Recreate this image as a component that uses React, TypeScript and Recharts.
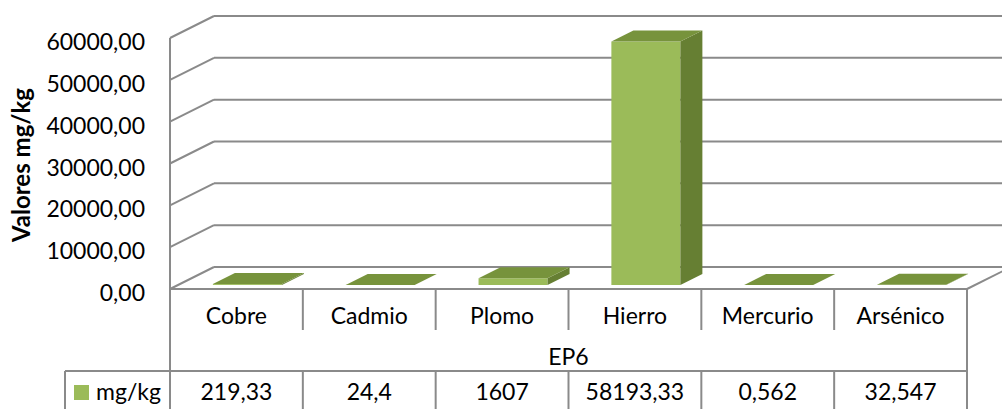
import { BarChart, Bar, XAxis, YAxis, CartesianGrid } from 'recharts';

const categories = ['Cobre', 'Cadmio', 'Plomo', 'Hierro', 'Mercurio', 'Arsénico'];
const values = [219.33, 24.4, 1607, 58193.33, 0.562, 32.547];
const yTicks = [0, 10000, 20000, 30000, 40000, 50000, 60000];
const seriesName = 'mg/kg';
const groupLabel = 'EP6';
const yTitle = 'Valores mg/kg';

const data = categories.map((name, i) => ({ name, value: values[i] }));

// layout
const W = 1002;
const H = 409;
const PLOT_L = 170;
const PLOT_R = 967;
const PLOT_B = 289;
const DEPTH_X = 44;
const DEPTH_Y = 22;
const COL_W = (PLOT_R - PLOT_L) / categories.length;
const ROW1 = 330;
const ROW2 = 371;
const LEGEND_L = 65;
const GRID = '#8a8a8a';
const FONT = 'Lato, "Open Sans", sans-serif';
const FRONT = '#9BBB59';
const TOP = '#77933C';
const SIDE = '#667F33';

const fmt = (v: number) => String(v).replace('.', ',');

function gridLine(p: any) {
    const { x1, x2, y1 } = p;
    const by = y1 - DEPTH_Y;
    return (
        <g key={p.key}>
            <line x1={x1} y1={y1} x2={x1 + DEPTH_X} y2={by} stroke={GRID} strokeWidth={2} />
            <line x1={x1 + DEPTH_X} y1={by} x2={x2 + DEPTH_X} y2={by} stroke={GRID} strokeWidth={2} />
            {y1 > PLOT_B - 1 && (
                <line x1={x2} y1={y1} x2={x2 + DEPTH_X} y2={by} stroke={GRID} strokeWidth={2} />
            )}
        </g>
    );
}

function Bar3D(p: any) {
    const { x, y, width, height } = p;
    const fx = x + 11;
    const fy = y - 4;
    const h = Math.max(height, 0);
    const dx = 22, dy = 11;
    const r = fx + width;
    return (
        <g>
            <rect x={fx} y={fy} width={width} height={h} fill={FRONT} />
            <polygon
                points={`${r},${fy} ${r + dx},${fy - dy} ${r + dx},${fy + h - dy} ${r},${fy + h}`}
                fill={SIDE}
            />
            <polygon
                points={`${fx},${fy} ${fx + dx},${fy - dy} ${r + dx},${fy - dy} ${r},${fy}`}
                fill={TOP}
            />
        </g>
    );
}

function YTick({ y, payload }: any) {
    return (
        <text x={145} y={y + 12} textAnchor="end" fontFamily={FONT} fontSize={23} fill="#000">
            {payload.value.toFixed(2).replace('.', ',')}
        </text>
    );
}

function XTick({ x, payload, index }: any) {
    const l = x - COL_W / 2;
    const r = x + COL_W / 2;
    const last = index === categories.length - 1;
    const txt = { fontFamily: FONT, fontSize: 23, fill: '#000', textAnchor: 'middle' as const };
    return (
        <g>
            <text x={x} y={324} {...txt}>{payload.value}</text>
            <text x={x} y={400} {...txt}>{fmt(values[index])}</text>
            {last ? (
                <line x1={r} y1={PLOT_B} x2={r} y2={H} stroke={GRID} strokeWidth={2} />
            ) : (
                <>
                    <line x1={r} y1={PLOT_B} x2={r} y2={ROW1} stroke={GRID} strokeWidth={2} />
                    <line x1={r} y1={ROW2} x2={r} y2={H} stroke={GRID} strokeWidth={2} />
                </>
            )}
            {index === 0 && (
                <g>
                    <line x1={l} y1={PLOT_B} x2={l} y2={H} stroke={GRID} strokeWidth={2} />
                    <line x1={LEGEND_L} y1={ROW2} x2={PLOT_R} y2={ROW2} stroke={GRID} strokeWidth={2} />
                    <line x1={LEGEND_L} y1={ROW2} x2={LEGEND_L} y2={H} stroke={GRID} strokeWidth={2} />
                    <text x={(PLOT_L + PLOT_R) / 2} y={365} {...txt}>{groupLabel}</text>
                    <rect x={74} y={385} width={15} height={15} fill={FRONT} />
                    <text x={96} y={400} fontFamily={FONT} fontSize={23} fill="#000">{seriesName}</text>
                </g>
            )}
        </g>
    );
}

export default function App() {
    return (
        <div style={{ position: 'absolute', left: 0, top: 0, width: W, height: H, background: '#fff' }}>
            <BarChart
                width={W}
                height={H}
                data={data}
                margin={{ top: 38, right: W - PLOT_R, bottom: 0, left: 0 }}
                barCategoryGap="24%"
            >
                <CartesianGrid vertical={false} horizontal={gridLine} />
                <XAxis
                    dataKey="name"
                    height={H - PLOT_B}
                    interval={0}
                    tickLine={false}
                    axisLine={{ stroke: GRID, strokeWidth: 2 }}
                    tick={(p: any) => <XTick {...p} />}
                />
                <YAxis
                    width={PLOT_L}
                    domain={[0, 60000]}
                    ticks={yTicks}
                    tickLine={false}
                    axisLine={{ stroke: GRID, strokeWidth: 2 }}
                    tick={(p: any) => <YTick {...p} />}
                    label={() => (
                        <text
                            transform="translate(30,165) rotate(-90)"
                            textAnchor="middle"
                            fontFamily={FONT}
                            fontSize={24}
                            fontWeight="bold"
                            fill="#000"
                        >
                            {yTitle}
                        </text>
                    )}
                />
                <Bar dataKey="value" shape={(p: any) => <Bar3D {...p} />} isAnimationActive={false} />
            </BarChart>
        </div>
    );
}
